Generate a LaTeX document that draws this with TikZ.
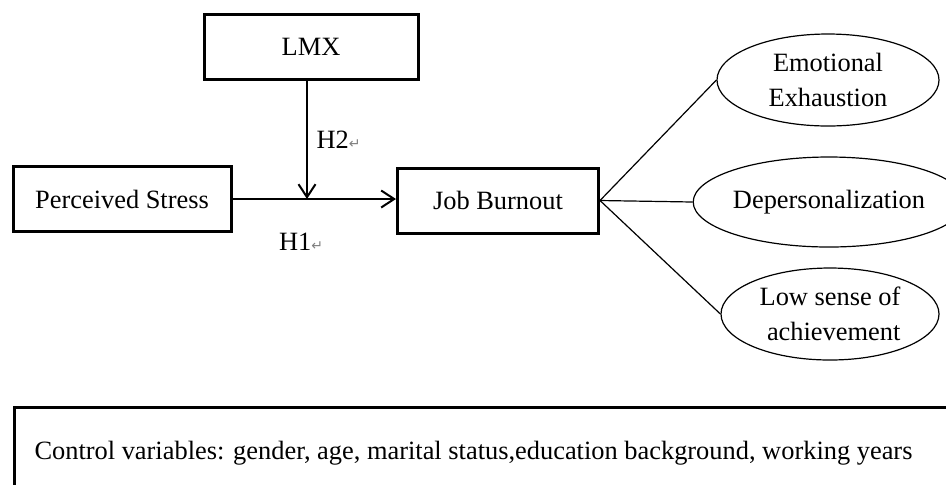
\documentclass[tikz,border=0pt]{standalone}
\usepackage{fontspec}
\setmainfont{Liberation Serif}
\newfontfamily\retfont{DejaVu Sans}
\usetikzlibrary{positioning}
\usetikzlibrary{arrows.meta,shapes.geometric}
\newcommand{\retmark}{{\retfont\color{gray}\fontsize{7}{7}\selectfont ↵}}

\begin{document}
\begin{tikzpicture}[x=0.5pt,y=-0.5pt,
  font=\fontsize{13.2}{17.5}\selectfont,
  box/.style={draw,line width=1.5pt,minimum height=32.5pt,inner sep=0pt},
  oval/.style={ellipse,draw,line width=0.6pt,minimum height=46pt,inner sep=0pt,align=center},
  path/.style={line width=1pt,-{Straight Barb[length=6.5pt,width=8.5pt,line width=1pt]}},
  spoke/.style={line width=0.6pt}]
\useasboundingbox (0,0) rectangle (946,484);
\clip (0,0) rectangle (946,484);

\node[box,minimum width=107pt] (lmx) at (311,46.5) {LMX};
\node[box,minimum width=109pt] (stress) at (122,199) {Perceived Stress};
\node[box,minimum width=100.5pt] (burnout) at (498,200.5) {Job Burnout};

\node[oval,minimum width=111pt] (emo) at (828,80) {Emotional\\Exhaustion};
\node[oval,minimum width=112pt,minimum height=45pt] (dep) at (829,202) {Depersonalization};
\node[oval,minimum width=109pt,align=right] (low) at (830,314) {Low sense of\\achievement};

\coordinate (meet) at (307,199);
\draw[path] (stress.east) -- (burnout.west |- stress.east);
\draw[path] (lmx.south -| meet) -- (meet) node[midway,right=1pt] (h2) {H2\retmark};
\node (h1) at (301,242) {H1\retmark};

\foreach \f in {emo,dep,low}
  \draw[spoke] (burnout.east) -- (\f.west);

% control variables, box runs off the page
\node[draw,line width=1.5pt,anchor=north west,minimum height=46pt,
      inner xsep=10pt,text width=453pt,align=flush left] (ctrl) at (13,406)
  {Control variables: gender, age, marital status,education background, working years};
\end{tikzpicture}
\end{document}
